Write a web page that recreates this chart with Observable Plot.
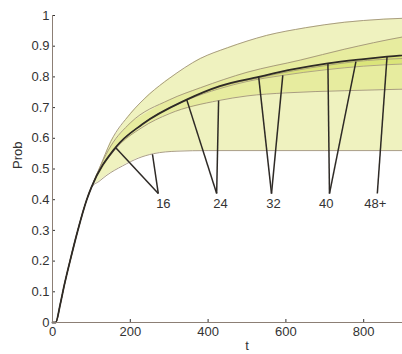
<!DOCTYPE html>
<html>
<head>
<meta charset="utf-8">
<script src="https://cdn.jsdelivr.net/npm/d3@7"></script>
<script src="https://cdn.jsdelivr.net/npm/@observablehq/plot@0.6"></script>
<style>
  html, body { margin: 0; padding: 0; background: #fff; overflow: hidden; width: 402px; height: 354px; }
  svg { display: block; max-width: none !important; }
</style>
</head>
<body>
<div id="chart"></div>
<script>
// shared rising start (t, prob)
const baseCurve = [[0,0],[8,0],[20,0.06],[30,0.12],[45,0.2],[65,0.3],[88,0.4],[100,0.44]];
// upper outer bound
const curveA = [[120,0.5],[150,0.59],[200,0.68],[250,0.745],[300,0.795],[380,0.86],[450,0.895],[550,0.935],[650,0.96],[750,0.978],[850,0.988],[1000,0.995]];
// upper inner bound
const curveB = [[150,0.575],[200,0.65],[300,0.725],[381,0.765],[500,0.815],[638,0.855],[750,0.89],[900,0.93],[1000,0.95]];
// central (thick) curve, 48+
const curveC = [[162,0.57],[230,0.645],[345,0.726],[430,0.77],[530,0.80],[620,0.825],[708,0.844],[800,0.858],[860,0.866],[1000,0.88]];
// 40
const curveD = [[162,0.57],[230,0.645],[345,0.726],[430,0.768],[530,0.797],[620,0.82],[708,0.838],[780,0.85],[900,0.86],[1000,0.863]];
// 32
const curveE = [[162,0.57],[230,0.645],[345,0.724],[430,0.762],[500,0.785],[592,0.805],[700,0.823],[800,0.835],[900,0.842],[1000,0.845]];
// 24
const curveF = [[162,0.565],[230,0.635],[300,0.68],[427,0.723],[500,0.738],[600,0.748],[750,0.755],[900,0.76],[1000,0.762]];
// 16 (lower outer bound)
const curveG = [[120,0.46],[140,0.48],[180,0.51],[220,0.535],[260,0.55],[320,0.558],[400,0.56],[1000,0.56]];

const ageLabels = ["16","24","32","40","48+"];
const labelT = [285, 432, 568, 704, 830];
const labelP = 0.385;
const vertexT = [272, 422, 563, 712, 835];
const vertexP = 0.42;
// pointer end points per label: [t, prob]
const pointerEnds = [
  [[162,0.57],[257,0.548]],
  [[345,0.726],[427,0.723]],
  [[530,0.80],[592,0.805]],
  [[708,0.844],[780,0.85]],
  [[860,0.866]]
];
const yTicks = [0,0.1,0.2,0.3,0.4,0.5,0.6,0.7,0.8,0.9,1];
const xTicks = [0,200,400,600,800];
const xTitle = "t";
const yTitle = "Prob";

const full = c => baseCurve.concat(c).map(([t,p]) => ({t, p}));
const A = full(curveA), B = full(curveB), C = full(curveC), D = full(curveD),
      E = full(curveE), F = full(curveF), G = full(curveG);

function lookup(arr, t) {
  for (let i = 1; i < arr.length; i++) {
    if (t <= arr[i].t) {
      const a = arr[i-1], b = arr[i];
      const k = (t - a.t) / (b.t - a.t || 1);
      return a.p + k * (b.p - a.p);
    }
  }
  return arr[arr.length-1].p;
}
const allT = Array.from(new Set([].concat(...[A,B,C,D,E,F,G].map(a => a.map(d => d.t))))).sort((a,b)=>a-b);
const band = (hi, lo) => allT.map(t => ({t, y1: lookup(lo, t), y2: lookup(hi, t)}));

const pointerLinks = [];
pointerEnds.forEach((ends, i) => ends.forEach(([t,p]) => pointerLinks.push({x1: vertexT[i], y1: vertexP, x2: t, y2: p})));
const labels = ageLabels.map((s, i) => ({s, t: labelT[i], p: labelP}));

const edge = "#a09378";
const crv = "monotone-x";
const chart = Plot.plot({
  width: 441,
  height: 354,
  marginLeft: 52,
  marginRight: 0,
  marginTop: 15,
  marginBottom: 32,
  style: {fontFamily: "'Liberation Sans', Arial, sans-serif", fontSize: "13px", color: "#333", background: "transparent", maxWidth: "none"},
  x: {domain: [0,1000], ticks: xTicks, tickSize: -3, tickPadding: 7, label: null},
  y: {domain: [0,1], ticks: yTicks, tickSize: -3, tickPadding: 6, tickFormat: d => String(+d.toFixed(1)), label: null},
  marks: [
    Plot.areaY(band(A, G), {x: "t", y1: "y1", y2: "y2", fill: "#eff2bf", curve: crv}),
    Plot.areaY(band(B, F), {x: "t", y1: "y1", y2: "y2", fill: "#e7ec9f", curve: crv}),
    Plot.areaY(band(C, E), {x: "t", y1: "y1", y2: "y2", fill: "#dbe57a", curve: crv}),
    Plot.line(A, {x: "t", y: "p", stroke: edge, strokeWidth: 0.9, curve: crv}),
    Plot.line(B, {x: "t", y: "p", stroke: edge, strokeWidth: 0.9, curve: crv}),
    Plot.line(D, {x: "t", y: "p", stroke: edge, strokeWidth: 0.8, curve: crv}),
    Plot.line(E, {x: "t", y: "p", stroke: edge, strokeWidth: 0.8, curve: crv}),
    Plot.line(F, {x: "t", y: "p", stroke: edge, strokeWidth: 0.9, curve: crv}),
    Plot.line(G, {x: "t", y: "p", stroke: edge, strokeWidth: 0.9, curve: crv}),
    Plot.line(C, {x: "t", y: "p", stroke: "#2e2a26", strokeWidth: 1.8, curve: crv}),
    Plot.ruleX([0], {y1: 0, y2: 1, stroke: "#8c7f75"}),
    Plot.ruleY([0], {stroke: "#8c7f75"}),
    Plot.link(pointerLinks, {x1: "x1", y1: "y1", x2: "x2", y2: "y2", stroke: "#2e2a26", strokeWidth: 1.5}),
    Plot.text(labels, {x: "t", y: "p", text: "s", fill: "#333", fontSize: 13}),
    Plot.text([xTitle], {x: 500, y: 0, text: d => d, dy: 23, fill: "#333", fontSize: 13}),
    Plot.text([yTitle], {frameAnchor: "left", text: d => d, dx: -35, rotate: -90, fill: "#333", fontSize: 13})
  ]
});
document.getElementById("chart").appendChild(chart);
</script>
</body>
</html>
